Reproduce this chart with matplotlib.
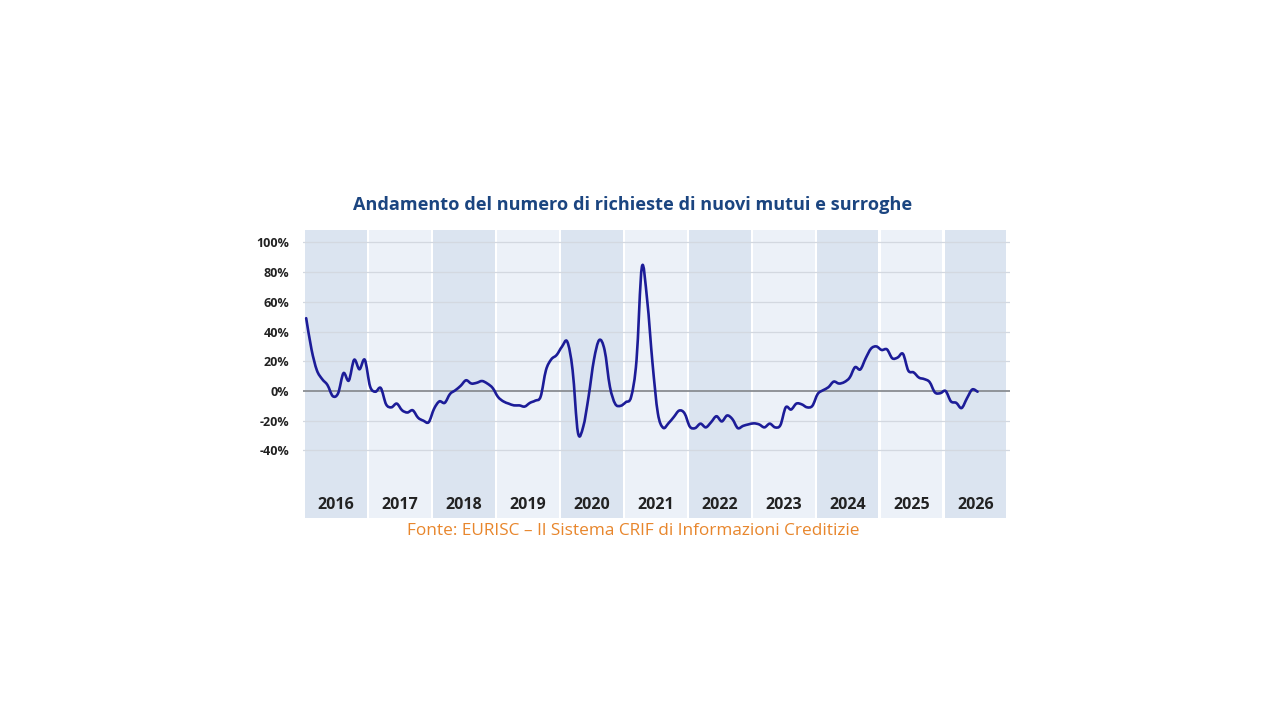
"""
Andamento richieste di nuovi mutui e surroghe (EURISC / CRIF)
"""
import numpy as np
import matplotlib
matplotlib.use("Agg")
import matplotlib.pyplot as plt
from matplotlib.path import Path
from matplotlib.patches import PathPatch

TITLE = "Andamento del numero di richieste di nuovi mutui e surroghe"
SOURCE = "Fonte: EURISC \u2013 Il Sistema CRIF di Informazioni Creditizie"

years = list(range(2016, 2027))
y_ticks = [100, 80, 60, 40, 20, 0, -20, -40]
y_tick_labels = ["100%", "80%", "60%", "40%", "20%", "0%", "-20%", "-40%"]

# monthly change, Jan 2016 onwards (%)
variation = [
    49, 28, 14, 8, 4, -3.5, -1.5, 12, 7, 21, 14.6, 21,            # 2016
    3, -0.5, 2, -9, -11, -8.5, -13, -14.5, -13, -18, -20, -21,    # 2017
    -12, -7, -8, -2, 0.5, 3.5, 7.2, 5, 5.5, 6.7, 5, 2,            # 2018
    -4, -7, -8.5, -9.7, -9.7, -10.5, -8, -6.5, -3.8, 14, 21.3, 24.2,  # 2019
    29.8, 33.2, 14, -28, -24, -3.8, 20.9, 34.3, 27.6, 2.9, -8.7, -10,  # 2020
    -7.5, -3.8, 20.9, 83.5, 61, 18.6, -15, -24.8, -21.7, -17.5, -13.2, -15,  # 2021
    -24, -25, -22, -24.5, -21, -17, -20.5, -16.5, -19, -25, -23.5, -22.5,  # 2022
    -21.8, -22.5, -24.5, -22, -24.5, -23, -11, -12.5, -8.5, -9, -11, -10,  # 2023
    -2, 0.5, 2.5, 6.3, 5, 6, 9, 16, 14.5, 22, 28.5, 30,           # 2024
    27.6, 28, 22, 22.5, 25, 13.7, 12.5, 9, 8, 6, -1, -1.5,         # 2025
    0, -7, -8, -11.5, -5, 1, -0.5,                                 # 2026
]

DARK_BAND = "#dbe4f0"
LIGHT_BAND = "#ecf1f8"
LINE_COLOR = "#1c1c98"
TITLE_COLOR = "#1b4580"
SOURCE_COLOR = "#e8862c"


def smooth_path(x, y):
    """
    Bezier path through the points, like a spreadsheet 'smoothed line'.
    """
    pts = np.column_stack([x, y]).astype(float)
    n = len(pts)
    verts = [pts[0]]
    codes = [Path.MOVETO]
    for i in range(n - 1):
        p0 = pts[max(i - 1, 0)]
        p1 = pts[i]
        p2 = pts[i + 1]
        p3 = pts[min(i + 2, n - 1)]
        verts += [p1 + (p2 - p0) / 6.0, p2 - (p3 - p1) / 6.0, p2]
        codes += [Path.CURVE4] * 3
    return Path(verts, codes)


fig = plt.figure(figsize=(12.8, 7.2), dpi=100)
fig.patch.set_facecolor("white")
ax = fig.add_axes([0.2367, 0.2806, 0.552, 0.4])
ax.set_facecolor("white")

months = np.arange(len(variation))

# alternating year bands
for i, yr in enumerate(years):
    color = DARK_BAND if i % 2 == 0 else LIGHT_BAND
    ax.axvspan(12 * i - 0.2, 12 * i + 11.4, color=color, lw=0, zorder=0)
    ax.text(12 * i + 5.6, -76.5, str(yr), ha="center", va="center",
            fontsize=11.5, fontweight="bold", color="#222222",
            family="Open Sans", zorder=3)

# horizontal grid
for t in y_ticks:
    if t == 0:
        ax.axhline(0, color="#8a8d92", lw=1.3, zorder=1)
    else:
        ax.axhline(t, color="#d3d8e0", lw=0.9, zorder=1)

line = PathPatch(smooth_path(months, variation), fill=False,
                 edgecolor=LINE_COLOR, lw=1.9, zorder=4,
                 joinstyle="round", capstyle="round")
ax.add_patch(line)

ax.set_xlim(-0.6, 132)
ax.set_ylim(-85.5, 108.4)
ax.set_yticks(y_ticks)
ax.set_yticklabels(y_tick_labels, fontsize=9, fontweight="bold",
                   color="#222222", family="Open Sans")
ax.tick_params(axis="y", length=0, pad=10)
ax.set_xticks([])
for s in ax.spines.values():
    s.set_visible(False)

fig.text(0.4945, 0.715, TITLE, ha="center", va="center", fontsize=13.1,
         fontweight="bold", color=TITLE_COLOR, family="Open Sans")
fig.text(0.4945, 0.262, SOURCE, ha="center", va="center", fontsize=12.4,
         color=SOURCE_COLOR, family="Open Sans")

fig.savefig("out.png", dpi=100, facecolor="white")
